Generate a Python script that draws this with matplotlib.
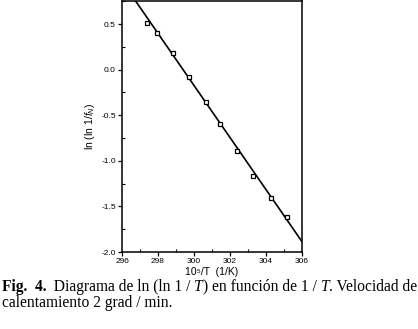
import numpy as np
import matplotlib.pyplot as plt
from matplotlib.ticker import MultipleLocator

# data
inv_t = [297.37, 297.94, 298.83, 299.74, 300.67, 301.46, 302.41, 303.30, 304.26, 305.18]
ln_ln = [0.51, 0.40, 0.18, -0.08, -0.35, -0.60, -0.89, -1.17, -1.41, -1.62]

# fitted straight line (end points as drawn)
fit_x = [296.74, 306.0]
fit_y = [0.757, -1.883]

plt.rcParams["font.family"] = ["Liberation Sans", "DejaVu Sans"]
plt.rcParams["mathtext.fontset"] = "custom"
plt.rcParams["mathtext.rm"] = "Liberation Sans"
plt.rcParams["mathtext.it"] = "Liberation Sans:italic"

fig = plt.figure(figsize=(4.18, 3.29), dpi=100, facecolor="white")
ax = fig.add_axes([0.292, 0.234, 0.430, 0.764])

ax.plot(fit_x, fit_y, color="black", lw=1.2, zorder=2)
ax.plot(inv_t, ln_ln, ls="none", marker="s", ms=3.2, mfc="white",
        mec="black", mew=0.9, zorder=3)

ax.set_xlim(296, 306)
ax.set_ylim(-2.0, 0.757)
ax.xaxis.set_major_locator(MultipleLocator(2))
ax.xaxis.set_minor_locator(MultipleLocator(1))
ax.yaxis.set_minor_locator(MultipleLocator(0.25))
ax.set_yticks([-2.0, -1.5, -1.0, -0.5, 0.0, 0.5])
ax.set_yticklabels(["-2.0", "-1.5", "-1.0", "-0.5", "0.0", "0.5"])

ax.tick_params(which="major", direction="out", length=3, width=0.9,
               labelsize=6, pad=1.5, color="black")
ax.tick_params(which="minor", direction="in", length=2, width=0.8)
for s in ax.spines.values():
    s.set_linewidth(1.1)

ax.set_xlabel("10\u2075/T  (1/K)", fontsize=7.5, labelpad=1)
ax.set_ylabel(r"ln (ln 1/$f_N$)", fontsize=7.5, labelpad=3)

# caption, built piece by piece so bold / italic parts line up
r = fig.canvas.get_renderer()
cap = dict(family=["Liberation Serif", "DejaVu Serif"], fontsize=11.2, va="baseline")


def chain(x, y, parts):
    for txt, kw in parts:
        t = fig.text(x, y, txt, **cap, **kw)
        x = t.get_window_extent(renderer=r).x1 / fig.bbox.width
    return x


chain(0.004, 0.117, [
    ("Fig.  4.", dict(fontweight="bold")),
    ("  Diagrama de ln (ln 1 / ", {}),
    ("T", dict(style="italic")),
    (") en función de 1 / ", {}),
    ("T", dict(style="italic")),
    (". Velocidad de", {}),
])
fig.text(0.004, 0.067, "calentamiento 2 grad / min.", **cap)

fig.savefig("out.png", dpi=100, facecolor="white")
